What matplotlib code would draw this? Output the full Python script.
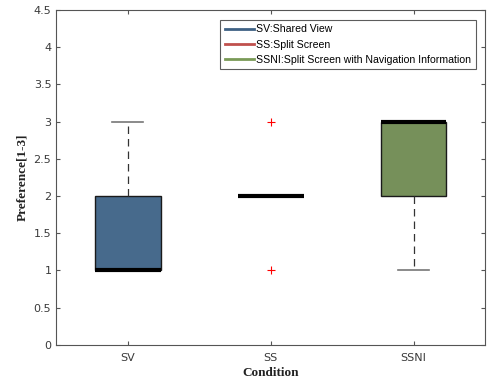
import matplotlib
matplotlib.use('Agg')
import matplotlib.pyplot as plt
from matplotlib.lines import Line2D

# box statistics per condition (preference 1-3)
conditions = ['SV', 'SS', 'SSNI']
q1 = [1, 2, 2]
med = [1, 2, 3]
q3 = [2, 2, 3]
whislo = [1, 2, 1]
whishi = [3, 2, 3]
fliers = [[], [1, 3], []]
box_colors = ['#476a8c', '#ffffff', '#76905a']

legend_labels = ['SV:Shared View', 'SS:Split Screen',
                 'SSNI:Split Screen with Navigation Information']
legend_colors = ['#3f6184', '#c0504d', '#7a9a57']

stats = []
for i in range(len(conditions)):
    stats.append({'label': conditions[i], 'q1': q1[i], 'med': med[i], 'q3': q3[i],
                  'whislo': whislo[i], 'whishi': whishi[i], 'fliers': fliers[i]})

fig = plt.figure(figsize=(4.89, 3.82), dpi=100)
ax = fig.add_axes([0.115, 0.097, 0.877, 0.877])

bp = ax.bxp(stats, positions=[1, 2, 3], widths=0.46, patch_artist=True,
            showfliers=True,
            boxprops=dict(edgecolor='#1a1a1a', linewidth=1.0),
            medianprops=dict(color='black', linewidth=3, solid_capstyle='butt'),
            whiskerprops=dict(color='#333333', linestyle=(0, (6, 4)), linewidth=0.9),
            capprops=dict(color='#777777', linewidth=1.2),
            flierprops=dict(marker='+', markeredgecolor='red', markersize=6,
                            markeredgewidth=0.8, linestyle='none'),
            capwidths=0.22)
for patch, c in zip(bp['boxes'], box_colors):
    patch.set_facecolor(c)
    if c == '#ffffff':
        patch.set_edgecolor('none')

ax.set_xlim(0.5, 3.5)
ax.set_ylim(0, 4.5)
ax.set_yticks([0, 0.5, 1, 1.5, 2, 2.5, 3, 3.5, 4, 4.5])
ax.set_yticklabels(['0', '0.5', '1', '1.5', '2', '2.5', '3', '3.5', '4', '4.5'])
ax.set_xticks([1, 2, 3])
ax.set_xticklabels(conditions)
ax.tick_params(direction='in', top=True, right=True, length=3, labelsize=8,
               labelcolor='#3a3a3a', color='#555555', width=0.8)
ax.tick_params(axis='x', pad=6)
for s in ax.spines.values():
    s.set_color('#555555')
    s.set_linewidth(0.8)

ax.set_ylabel('Preference[1-3]', family='Liberation Serif', fontweight='bold',
              fontsize=9.5, color='#222222')
ax.set_xlabel('Condition', family='Liberation Serif', fontweight='bold',
              fontsize=9.5, color='#222222', labelpad=3)

handles = [Line2D([0], [0], color=c, linewidth=2) for c in legend_colors]
leg = ax.legend(handles, legend_labels, loc='upper right', bbox_to_anchor=(0.99, 0.985),
                frameon=True, fancybox=False, handlelength=2.8,
                handletextpad=0.2, borderpad=0.4, labelspacing=0.5,
                prop={'family': 'Liberation Sans', 'size': 7.6})
leg.get_frame().set_edgecolor('#333333')
leg.get_frame().set_linewidth(0.8)

fig.savefig('out.png', dpi=100)
